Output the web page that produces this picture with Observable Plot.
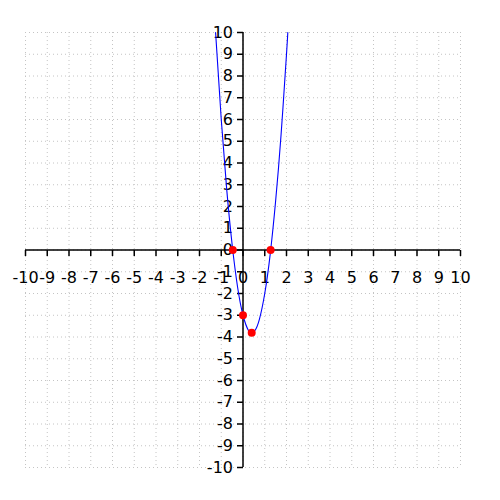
<!DOCTYPE html>
<html>
<head>
<meta charset="utf-8">
<script src="https://cdn.jsdelivr.net/npm/d3@7"></script>
<script src="https://cdn.jsdelivr.net/npm/@observablehq/plot@0.6"></script>
<style>
  html, body { margin: 0; padding: 0; background: #fff; }
  #chart svg { display: block; }
</style>
</head>
<body>
<div id="chart"></div>
<script>
// Tick values on both axes
const xTicks = [-10, -9, -8, -7, -6, -5, -4, -3, -2, -1, 0, 1, 2, 3, 4, 5, 6, 7, 8, 9, 10];
const yTicks = [-10, -9, -8, -7, -6, -5, -4, -3, -2, -1, 0, 1, 2, 3, 4, 5, 6, 7, 8, 9, 10];

// Curve points
const curveX = [-1.26, -1, -0.75, -0.5, -0.25, 0, 0.25, 0.4, 0.55, 0.75, 1, 1.25, 1.5, 1.75, 2, 2.06];
const curveY = [10, 6, 2.8, 0.25, -1.7, -3, -3.7, -3.8, -3.7, -3.2, -2, -0.2, 2.25, 5.3, 9, 10];

// Highlighted points (roots, y-intercept, vertex)
const pointX = [-0.47, 0, 0.4, 1.27];
const pointY = [0, -3, -3.8, 0];

const curve = curveX.map((x, i) => ({x, y: curveY[i]}));
const points = pointX.map((x, i) => ({x, y: pointY[i]}));

const tickDown = {draw(ctx) { ctx.moveTo(0, 0); ctx.lineTo(0, 6); }};
const tickLeft = {draw(ctx) { ctx.moveTo(0, 0); ctx.lineTo(-6, 0); }};

const chart = Plot.plot({
  width: 500,
  height: 500,
  marginLeft: 25,
  marginRight: 40,
  marginTop: 32,
  marginBottom: 33,
  style: {fontFamily: "DejaVu Sans", fontSize: "16px", background: "#fff", color: "#000"},
  x: {domain: [-10, 10], axis: null},
  y: {domain: [-10, 10], axis: null},
  marks: [
    Plot.gridX(xTicks, {stroke: "#c4c4c4", strokeOpacity: 1, strokeDasharray: "1,3"}),
    Plot.gridY(yTicks, {stroke: "#c4c4c4", strokeOpacity: 1, strokeDasharray: "1,3"}),
    Plot.ruleY([0], {x1: xTicks[0], x2: xTicks[xTicks.length - 1], stroke: "#000", strokeWidth: 1.5}),
    Plot.ruleX([0], {y1: yTicks[0], y2: yTicks[yTicks.length - 1], stroke: "#000", strokeWidth: 1.5}),
    Plot.dot(xTicks, {x: d => d, y: 0, symbol: tickDown, stroke: "#000", fill: "none", strokeWidth: 1.5}),
    Plot.dot(yTicks, {x: 0, y: d => d, symbol: tickLeft, stroke: "#000", fill: "none", strokeWidth: 1.5}),
    Plot.text(xTicks, {x: d => d, y: 0, text: d => String(d), dy: 28, fontSize: 16, fill: "#000"}),
    Plot.text(yTicks, {x: 0, y: d => d, text: d => String(d), textAnchor: "end", dx: -10, fontSize: 16, fill: "#000"}),
    Plot.line(curve, {x: "x", y: "y", curve: "natural", stroke: "blue", strokeWidth: 1.1}),
    Plot.dot(points, {x: "x", y: "y", r: 4, fill: "red", stroke: "none"})
  ]
});
document.getElementById("chart").appendChild(chart);
</script>
</body>
</html>
